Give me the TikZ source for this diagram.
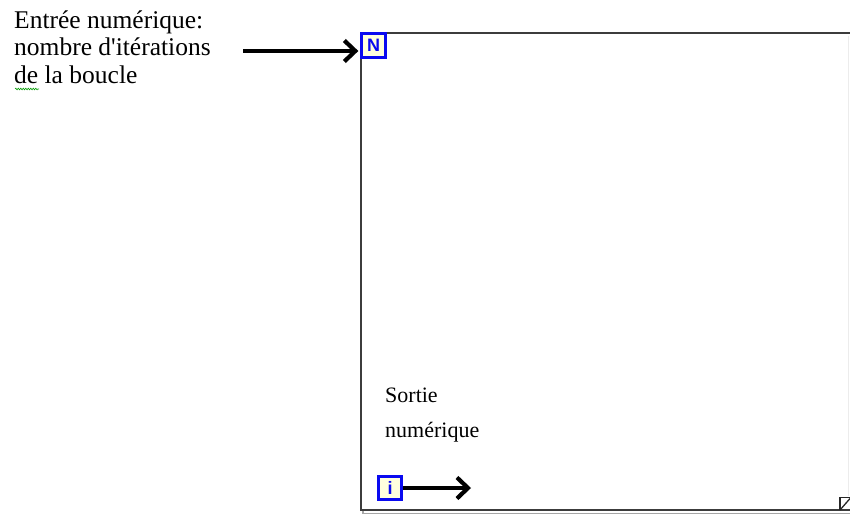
\documentclass[tikz,border=0pt]{standalone}
\usepackage{fontspec}
\setmainfont{Liberation Serif}
\newfontfamily\lvsans{Liberation Sans}
\usetikzlibrary{arrows.meta,decorations.pathmorphing}
\definecolor{lvblue}{RGB}{10,10,240}
\definecolor{lvfill}{RGB}{255,255,222}
\definecolor{framegray}{RGB}{60,60,60}
\tikzset{
  label/.style={inner sep=0pt, align=left, anchor=base west},
  termbox/.style={draw=lvblue, line width=2.8pt, fill=lvfill, inner sep=0pt,
    minimum width=23.5pt, minimum height=23.5pt, text=lvblue,
    font=\lvsans\bfseries\fontsize{18}{18}\selectfont},
  bigarrow/.style={line width=4.2pt, -{Straight Barb[length=11pt,width=21pt]}},
  frameline/.style={draw=framegray, line width=2pt},
  shadowline/.style={draw=gray!70, line width=1.4pt},
}
\begin{document}
\begin{tikzpicture}[x=1pt,y=-1pt]
\useasboundingbox (0,0) rectangle (850,516);
% frame
\draw[shadowline] (363,511) -- (363,513.5) -- (850,513.5);
\draw[frameline] (850,33.5) -- (360.5,33.5) -- (360.5,510) -- (850,510);
\draw[draw=gray!15, line width=1pt] (848,36) -- (848,496);
\draw[draw=black!85, line width=1.3pt] (840,510) -- (840,497.5) -- (850,497.5);
\draw[draw=black!85, line width=1.3pt] (840,510) -- (850,498.5);
% terminals
\node[termbox] (nbox) at (373.5,45.5) {N};
\node[termbox] (ibox) at (390,488) {i};
% texts
\node[label, font=\fontsize{25.5}{27.5}\selectfont] (intext) at (14,83.5)
  {Entrée numérique:\\nombre d\textquotesingle itérations\\de la boucle};
\node[label, font=\fontsize{22}{35}\selectfont] (outtext) at (385,437)
  {Sortie\\numérique};
% spell-check squiggle
\coordinate (sqa) at (15,89);
\coordinate (sqb) at (39,89);
\draw[green!60!black, line width=0.6pt, decorate,
  decoration={snake, amplitude=0.8pt, segment length=2.5pt}] (sqa) -- (sqb);
% arrows
\coordinate (instart) at (243,51);
\coordinate (outend) at (471,488);
\draw[bigarrow] (instart) -- ([yshift=-5.5pt,xshift=-2pt]nbox.west);
\draw[bigarrow] (ibox.east) -- (outend);
\end{tikzpicture}
\end{document}
